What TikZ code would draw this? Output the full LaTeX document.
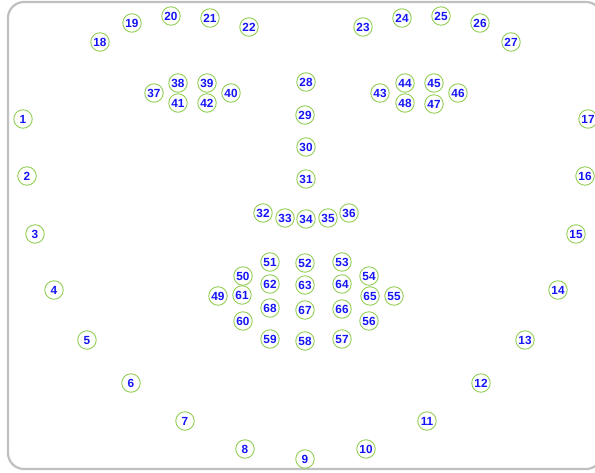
\documentclass[tikz,border=0pt]{standalone}
\usepackage{fontspec}
\setmainfont{Liberation Sans}
\definecolor{markgreen}{RGB}{146,206,86}
\definecolor{markblue}{RGB}{20,20,245}
\definecolor{framegray}{RGB}{192,192,192}
\tikzset{
  landmark/.style={circle,draw=markgreen,line width=0.9pt,minimum size=18.5pt,inner sep=0pt,
    text=markblue,font=\fontsize{11.8}{12}\selectfont\bfseries}
}
\begin{document}
\begin{tikzpicture}[x=1pt,y=-1pt]
\useasboundingbox (0,0) rectangle (595,472);
\draw[framegray,line width=2.2pt,rounded corners=16pt] (8,2) rectangle (602,469);

\node[landmark] (p1) at (23,119) {1};
\node[landmark] (p2) at (27,176) {2};
\node[landmark] (p3) at (35,234) {3};
\node[landmark] (p4) at (54,290) {4};
\node[landmark] (p5) at (87,340) {5};
\node[landmark] (p6) at (131,383) {6};
\node[landmark] (p7) at (185,421) {7};
\node[landmark] (p8) at (245,449) {8};
\node[landmark] (p9) at (305,459) {9};
\node[landmark] (p10) at (366,449) {10};
\node[landmark] (p11) at (427,421) {11};
\node[landmark] (p12) at (481,383) {12};
\node[landmark] (p13) at (525,340) {13};
\node[landmark] (p14) at (558,290) {14};
\node[landmark] (p15) at (576,234) {15};
\node[landmark] (p16) at (585,176) {16};
\node[landmark] (p17) at (588,119) {17};

\node[landmark] (p18) at (100,42) {18};
\node[landmark] (p19) at (132,23) {19};
\node[landmark] (p20) at (171,16) {20};
\node[landmark] (p21) at (210,18) {21};
\node[landmark] (p22) at (249,27) {22};
\node[landmark] (p23) at (363,27) {23};
\node[landmark] (p24) at (402,18) {24};
\node[landmark] (p25) at (441,16) {25};
\node[landmark] (p26) at (480,23) {26};
\node[landmark] (p27) at (511,42) {27};

\node[landmark] (p28) at (306,82) {28};
\node[landmark] (p29) at (305,115) {29};
\node[landmark] (p30) at (306,147) {30};
\node[landmark] (p31) at (306,179) {31};
\node[landmark] (p32) at (263,213) {32};
\node[landmark] (p33) at (285,218) {33};
\node[landmark] (p34) at (306,219) {34};
\node[landmark] (p35) at (328,218) {35};
\node[landmark] (p36) at (349,213) {36};

\node[landmark] (p37) at (154,93) {37};
\node[landmark] (p38) at (178,83) {38};
\node[landmark] (p39) at (207,83) {39};
\node[landmark] (p40) at (231,93) {40};
\node[landmark] (p41) at (178,103) {41};
\node[landmark] (p42) at (207,103) {42};
\node[landmark] (p43) at (380,93) {43};
\node[landmark] (p44) at (405,83) {44};
\node[landmark] (p45) at (434,83) {45};
\node[landmark] (p46) at (458,93) {46};
\node[landmark] (p47) at (434,104) {47};
\node[landmark] (p48) at (405,103) {48};

\node[landmark] (p49) at (218,296) {49};
\node[landmark] (p50) at (243,276) {50};
\node[landmark] (p51) at (270,262) {51};
\node[landmark] (p52) at (305,263) {52};
\node[landmark] (p53) at (342,262) {53};
\node[landmark] (p54) at (369,276) {54};
\node[landmark] (p55) at (394,296) {55};
\node[landmark] (p56) at (369,321) {56};
\node[landmark] (p57) at (342,339) {57};
\node[landmark] (p58) at (305,341) {58};
\node[landmark] (p59) at (270,339) {59};
\node[landmark] (p60) at (243,321) {60};
\node[landmark] (p61) at (242,295) {61};
\node[landmark] (p62) at (270,284) {62};
\node[landmark] (p63) at (305,285) {63};
\node[landmark] (p64) at (342,284) {64};
\node[landmark] (p65) at (370,296) {65};
\node[landmark] (p66) at (342,309) {66};
\node[landmark] (p67) at (305,310) {67};
\node[landmark] (p68) at (270,308) {68};
\end{tikzpicture}
\end{document}
